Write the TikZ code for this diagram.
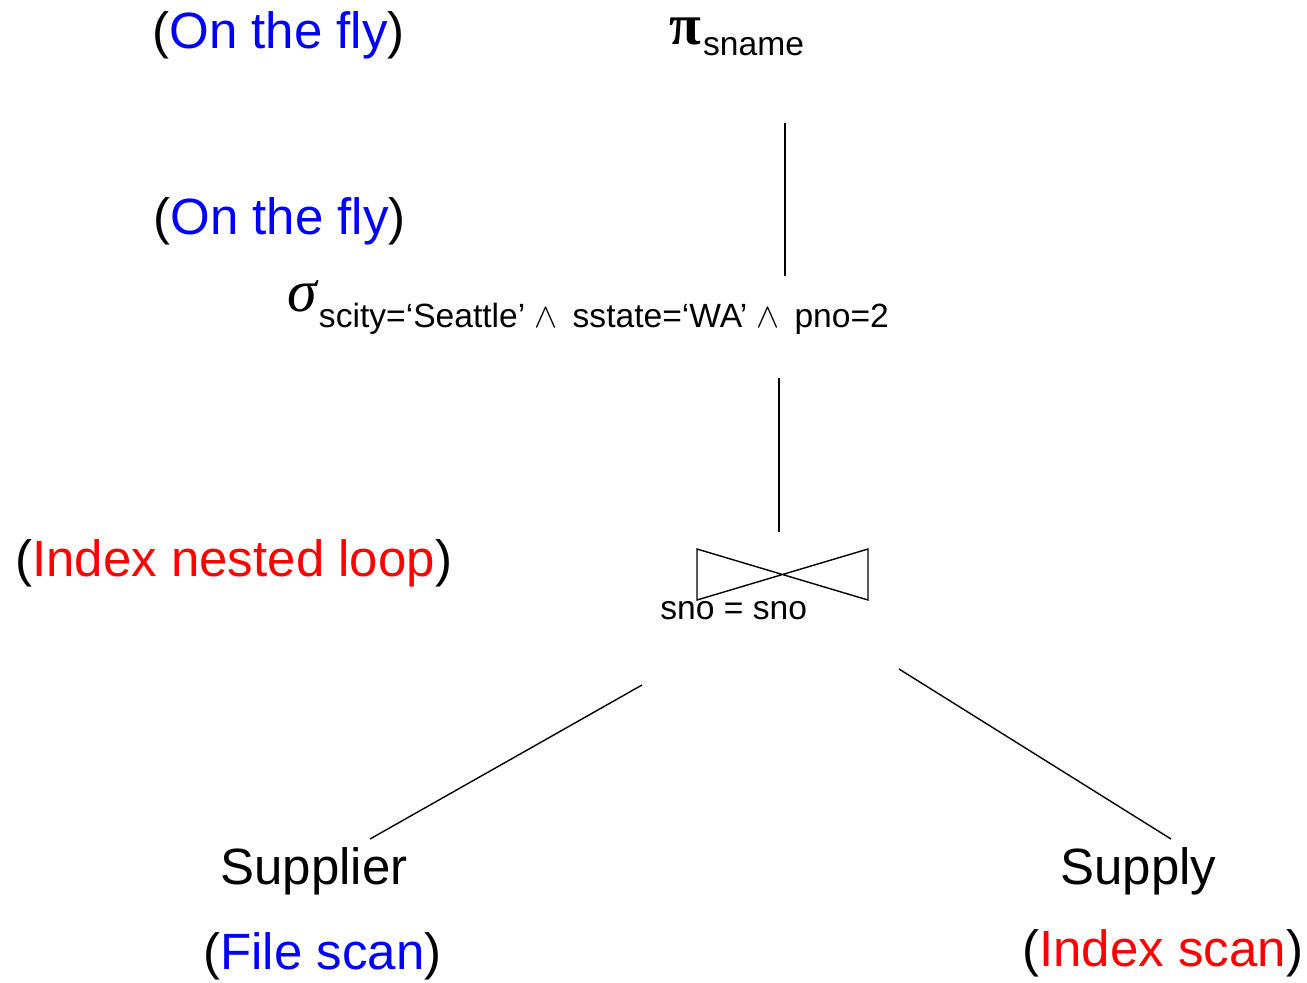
\documentclass[tikz,border=0pt]{standalone}
\usepackage{fontspec}
\setmainfont{Liberation Sans}
\newfontfamily\greekfont{Liberation Serif}
\usepackage{xcolor}

\begin{document}
\begin{tikzpicture}[x=0.5pt, y=-0.5pt,
    big/.style={inner sep=0, anchor=base west, font=\fontsize{25.5}{30}\selectfont},
    small/.style={inner sep=0, anchor=base west, font=\fontsize{16.8}{20}\selectfont},
    edge/.style={line width=0.7pt}]
  \useasboundingbox (0,0) rectangle (1307,982);

  \node (F) [big] at (152,48) {(\textcolor{blue}{On the fly})};
  \node (G) [big] at (153,234) {(\textcolor{blue}{On the fly})};
  \node (H) [big] at (15,576) {(\textcolor{red}{Index nested loop})};
  \node (I) [big] at (203,969) {(\textcolor{blue}{File scan})};
  \node (J) [big] at (1022,966) {(\textcolor{red}{Index scan})};

  \node (P) [inner sep=0, anchor=base west] at (669,44) {
    {\fontsize{29}{32}\greekfont\bfseries π}\hspace{1pt}\raisebox{-5.5pt}{\fontsize{16.8}{20}\selectfont sname}
  };
  \node (S) [inner sep=0, anchor=base west] at (287,311) {
    {\fontsize{30}{34}\greekfont\itshape σ}\hspace{1pt}\raisebox{-8pt}{\fontsize{16.8}{20}\selectfont
      scity=‘Seattle’ $\wedge$\, sstate=‘WA’ $\wedge$\, pno=2}
  };
  \coordinate (K) at (782.5,574.5);
  \node (E) [small] at (660,619) {sno = sno};
  \node (A) [big] at (220,884) {Supplier};
  \node (B) [big] at (1060,884) {Supply};

  \coordinate (p1) at (785,123);
  \coordinate (s1) at (785,276);
  \coordinate (s2) at (779,378);
  \coordinate (k1) at (779,532);
  \coordinate (k2) at (642,685);
  \coordinate (a1) at (370,839);
  \coordinate (k3) at (899,669);
  \coordinate (b1) at (1171,839);

  \draw[edge, shift={(K)}] (-85.5,-25.5) -- (85.5,25.5) -- (85.5,-25.5) -- (-85.5,25.5) -- cycle;

  \draw[edge] (p1) -- (s1);
  \draw[edge] (s2) -- (k1);
  \draw[edge] (k2) -- (a1);
  \draw[edge] (k3) -- (b1);
\end{tikzpicture}
\end{document}
